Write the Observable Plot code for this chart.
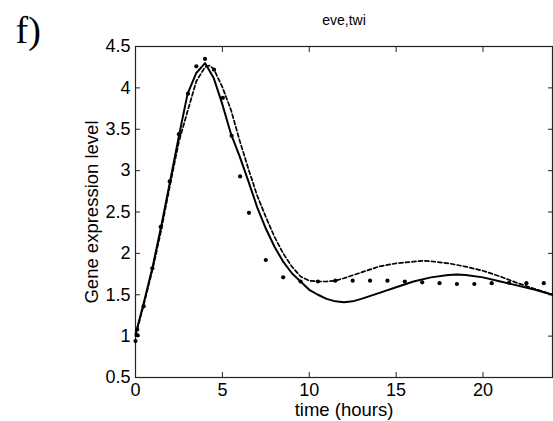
<!DOCTYPE html>
<html>
<head>
<meta charset="utf-8">
<script src="https://cdn.jsdelivr.net/npm/d3@7"></script>
<script src="https://cdn.jsdelivr.net/npm/@observablehq/plot@0.6"></script>
<style>
  body { margin: 0; background: #fff; }
  svg { font-family: "Liberation Sans", Arial, sans-serif; }
</style>
</head>
<body>
<div id="chart"></div>
<script>
// Observed data (dots)
const obsTime = [0, 0.12, 0.1, 0.47, 0.97, 1.45, 1.97, 2.5, 3.02, 3.5, 4.0, 4.52, 5.03, 5.53, 6.02, 6.53,
  7.5, 8.5, 9.5, 10.5, 11.5, 12.5, 13.5, 14.5, 15.5, 16.5, 17.5, 18.5, 19.5, 20.5, 21.5, 22.5, 23.5];
const obsValue = [0.94, 1.01, 1.08, 1.36, 1.82, 2.32, 2.87, 3.44, 3.93, 4.26, 4.35, 4.22, 3.88, 3.42, 2.93, 2.49,
  1.92, 1.71, 1.66, 1.66, 1.67, 1.67, 1.67, 1.67, 1.66, 1.65, 1.64, 1.63, 1.63, 1.64, 1.645, 1.64, 1.64];

// Model 1 (solid)
const solidTime = [0, 0.5, 1, 1.5, 2, 2.5, 3, 3.5, 4, 4.5, 5, 5.5, 6, 6.5, 7, 7.5, 8, 8.5, 9, 9.5, 10, 10.5, 11, 11.5, 12, 12.5, 13, 14, 15, 16, 17, 18, 18.5, 19, 20, 21, 22, 23, 24];
const solidValue = [1.02, 1.42, 1.85, 2.35, 2.88, 3.42, 3.93, 4.18, 4.30, 4.12, 3.80, 3.44, 3.17, 2.87, 2.56, 2.30, 2.08, 1.90, 1.76, 1.66, 1.56, 1.50, 1.45, 1.42, 1.41, 1.42, 1.45, 1.52, 1.59, 1.66, 1.71, 1.74, 1.745, 1.74, 1.71, 1.66, 1.61, 1.56, 1.50];

// Model 2 (dashed)
const dashTime = [0, 0.5, 1, 1.5, 2, 2.5, 3, 3.5, 4, 4.25, 4.5, 5, 5.5, 6, 6.5, 7, 7.5, 8, 8.5, 9, 9.5, 10, 10.5, 11, 11.5, 12, 13, 14, 15, 16, 16.5, 17, 18, 19, 20, 21, 22, 23, 24];
const dashValue = [1.0, 1.40, 1.82, 2.30, 2.84, 3.35, 3.72, 4.08, 4.25, 4.27, 4.23, 4.01, 3.73, 3.36, 3.02, 2.70, 2.44, 2.20, 2.00, 1.84, 1.72, 1.67, 1.66, 1.66, 1.67, 1.70, 1.77, 1.84, 1.88, 1.90, 1.91, 1.905, 1.88, 1.84, 1.79, 1.72, 1.64, 1.57, 1.50];

const xTicks = [0, 5, 10, 15, 20];
const yTicks = [0.5, 1, 1.5, 2, 2.5, 3, 3.5, 4, 4.5];
const yTickLabels = ["0.5", "1", "1.5", "2", "2.5", "3", "3.5", "4", "4.5"];

const obs = obsTime.map((t, i) => ({t, v: obsValue[i]}));
const solid = solidTime.map((t, i) => ({t, v: solidValue[i]}));
const dash = dashTime.map((t, i) => ({t, v: dashValue[i]}));

const ink = "#000";
const chart = Plot.plot({
  width: 553,
  height: 421,
  marginLeft: 135,
  marginTop: 46,
  marginRight: 1,
  marginBottom: 44,
  style: {fontFamily: '"Liberation Sans", Arial, sans-serif', fontSize: "18px", color: ink, background: "#fff"},
  x: {domain: [0, 24], ticks: xTicks},
  y: {domain: [0.5, 4.5], ticks: yTicks},
  marks: [
    Plot.frame({stroke: "#222", strokeWidth: 1.2}),
    // inward ticks on all sides
    Plot.axisX(xTicks, {anchor: "bottom", tickSize: 5, dy: -5, fill: "none", stroke: "#222", label: null}),
    Plot.axisX(xTicks, {anchor: "top", tickSize: 5, dy: 5, fill: "none", stroke: "#222", label: null}),
    Plot.axisY(yTicks, {anchor: "left", tickSize: 5, dx: 5, fill: "none", stroke: "#222", label: null}),
    Plot.axisY(yTicks, {anchor: "right", tickSize: 5, dx: -5, fill: "none", stroke: "#222", label: null}),
    // tick labels
    Plot.axisX(xTicks, {anchor: "bottom", tickSize: 0, tickPadding: 6, fontSize: 18, fill: ink, label: null}),
    Plot.axisY(yTicks, {anchor: "left", tickSize: 0, tickPadding: 5, fontSize: 18, fill: ink, label: null,
      tickFormat: (d) => yTickLabels[yTicks.indexOf(d)]}),
    // curves
    Plot.line(dash, {x: "t", y: "v", stroke: ink, strokeWidth: 1.7, strokeDasharray: "4,2.5"}),
    Plot.line(solid, {x: "t", y: "v", stroke: ink, strokeWidth: 2}),
    Plot.dot(obs, {x: "t", y: "v", r: 2.1, fill: ink, stroke: null}),
    // labels
    Plot.text(["time (hours)"], {frameAnchor: "bottom", dy: 33, lineAnchor: "middle", textAnchor: "middle", fontSize: 18.5, fill: ink}),
    Plot.text(["Gene expression level"], {frameAnchor: "left", dx: -43, rotate: -90, lineAnchor: "middle", textAnchor: "middle", fontSize: 18.5, fill: ink}),
    Plot.text(["eve,twi"], {frameAnchor: "top", dy: -26, lineAnchor: "middle", textAnchor: "middle", fontSize: 14, fill: ink}),
    Plot.text(["f)"], {frameAnchor: "top-left", dx: -120, dy: -30, textAnchor: "start", fontSize: 38, fontFamily: '"Liberation Serif", "Times New Roman", serif', fill: ink})
  ]
});
document.getElementById("chart").appendChild(chart);
</script>
</body>
</html>
